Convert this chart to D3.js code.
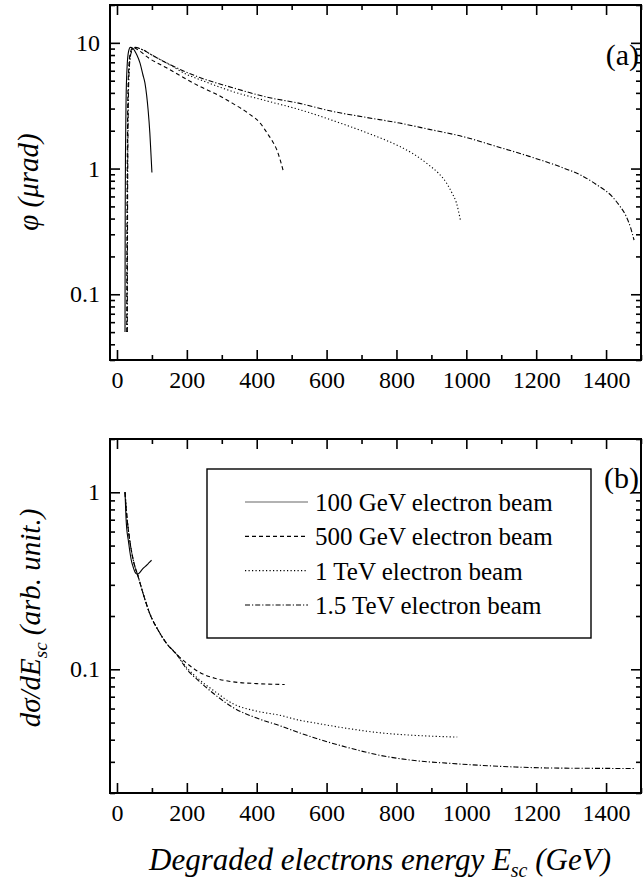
<!DOCTYPE html>
<html>
<head>
<meta charset="utf-8">
<script src="https://cdn.jsdelivr.net/npm/d3@7"></script>
</head>
<body style="margin:0;background:#fff">
<div id="content"></div>
<script>
// data
var beams=["100 GeV electron beam","500 GeV electron beam","1 TeV electron beam","1.5 TeV electron beam"];
var dashes=[null,"4,3","1.2,2.3","5,2,1.2,2"];

// panel (a): angle phi (urad) vs degraded energy (GeV)
var phiE100=[23,23.2,23.6,24.5,26,29,33,38,46,57,66,74,80,85,89,94,97,100];
var phi100=[0.05,0.15,0.5,1.5,3.5,6.5,8.5,9.2,9.0,8.0,6.9,5.6,4.8,3.8,2.95,1.93,1.35,0.93];
var phiE500=[28,28.3,28.8,29.7,31,34,38,46,60,90,143,190,237,285,331,380,410,429,445,457,468,477];
var phi500=[0.05,0.15,0.5,1.5,3.5,6.5,8.3,9.2,8.8,7.6,6.3,5.3,4.5,3.9,3.3,2.7,2.3,1.93,1.65,1.42,1.15,0.93];
var phiE1000=[29,29.3,29.8,30.7,32,35,40,50,70,100,143,200,237,331,429,523,620,714,809,850,894,920,943,960,971,983];
var phi1000=[0.05,0.15,0.5,1.5,3.5,6.5,8.4,9.2,8.9,8.0,6.9,5.6,5.1,4.1,3.45,2.94,2.4,1.93,1.5,1.3,1.06,0.92,0.77,0.63,0.54,0.39];
var phiE1500=[29.5,29.8,30.3,31.2,32.5,35.5,41,52,70,100,143,237,331,429,523,617,714,809,894,989,1086,1180,1274,1330,1371,1417,1440,1457,1470,1480];
var phi1500=[0.05,0.15,0.5,1.5,3.5,6.5,8.4,9.2,8.9,8.0,6.9,5.3,4.4,3.7,3.3,2.85,2.55,2.3,2.05,1.8,1.5,1.25,1.02,0.88,0.75,0.6,0.5,0.42,0.34,0.27];

// panel (b): dsigma/dE (arb. unit.) vs degraded energy (GeV)
var sigE100=[23,25.7,28,32.4,37,42,46,51.4,58,64,70.5,77,84.8,92,99];
var sig100=[1.0,0.725,0.62,0.536,0.46,0.404,0.38,0.355,0.344,0.35,0.363,0.375,0.387,0.40,0.413];
var sigE500=[23,27.6,35.2,46.7,61,75,94,118,142,170,200,237,280,331,400,480];
var sig500=[1.0,0.758,0.559,0.413,0.332,0.267,0.206,0.166,0.140,0.122,0.108,0.096,0.089,0.085,0.083,0.082];
var sigE1000=[23,27.6,35.2,46.7,61,75,94,118,142,170,200,237,280,331,400,466,523,560,657,751,846,974];
var sig1000=[1.0,0.758,0.559,0.413,0.332,0.267,0.206,0.166,0.140,0.122,0.102,0.087,0.075,0.064,0.058,0.055,0.0515,0.050,0.0464,0.0438,0.0424,0.0414];
var sigE1500=[23,27.6,35.2,46.7,61,75,94,118,142,170,200,237,280,331,400,466,523,560,657,751,846,943,1037,1131,1229,1323,1480];
var sig1500=[1.0,0.758,0.559,0.413,0.332,0.267,0.206,0.166,0.140,0.122,0.100,0.085,0.072,0.061,0.053,0.048,0.0437,0.0413,0.0363,0.0327,0.0306,0.0295,0.0287,0.0281,0.0277,0.0276,0.0275];

var xTicks=[0,200,400,600,800,1000,1200,1400];
var xMinor=[100,300,500,700,900,1100,1300,1500];
var phiTicks=[0.1,1,10];
var phiMinor=[0.03,0.04,0.05,0.06,0.07,0.08,0.09,0.2,0.3,0.4,0.5,0.6,0.7,0.8,0.9,2,3,4,5,6,7,8,9,20];
var sigTicks=[0.1,1];
var sigMinor=[0.02,0.03,0.04,0.05,0.06,0.07,0.08,0.09,0.2,0.3,0.4,0.5,0.6,0.7,0.8,0.9,2];

//constants
var width=643, height=888;
var left=110, right=641;
var serif="Liberation Serif";
var tickFont=24;

var svg=d3.select("#content").append("svg")
	.attr("width",width)
	.attr("height",height)
	.attr("font-family",serif);

var x=d3.scaleLinear().domain([-20,1500]).range([left,right]);

function zip(xs,ys){
	return xs.map(function(d,i){return [d,ys[i]];});
}

function label(sel,size,italic){
	return sel.attr("font-family",serif)
		.style("font-family",serif)
		.style("font-size",size+"px")
		.style("font-style",italic?"italic":"normal")
		.attr("fill","#000");
}

function panel(top,bottom,y,major,minor,series,tag){
	var g=svg.append("g");

	// curves
	var line=d3.line()
		.x(function(d){return x(d[0]);})
		.y(function(d){return y(d[1]);})
		.curve(d3.curveMonotoneX);
	series.forEach(function(s,i){
		g.append("path")
			.attr("d",line(s))
			.attr("fill","none")
			.attr("stroke","#000")
			.attr("stroke-width",1.1)
			.attr("stroke-dasharray",dashes[i]);
	});

	// axes, ticks point inward
	var fmt=function(d){return d3.format("~g")(d);};
	var ax=[
		[d3.axisBottom(x).tickValues(xTicks).tickSize(-10).tickPadding(11).tickFormat(fmt),"translate(0,"+bottom+")"],
		[d3.axisBottom(x).tickValues(xMinor).tickSize(-5).tickFormat(""),"translate(0,"+bottom+")"],
		[d3.axisTop(x).tickValues(xTicks).tickSize(-10).tickFormat(""),"translate(0,"+top+")"],
		[d3.axisTop(x).tickValues(xMinor).tickSize(-5).tickFormat(""),"translate(0,"+top+")"],
		[d3.axisLeft(y).tickValues(major).tickSize(-10).tickPadding(10).tickFormat(fmt),"translate("+left+",0)"],
		[d3.axisLeft(y).tickValues(minor).tickSize(-5).tickFormat(""),"translate("+left+",0)"],
		[d3.axisRight(y).tickValues(major).tickSize(-10).tickFormat(""),"translate("+right+",0)"],
		[d3.axisRight(y).tickValues(minor).tickSize(-5).tickFormat(""),"translate("+right+",0)"]
	];
	ax.forEach(function(a){
		var s=g.append("g").attr("transform",a[1]).call(a[0]);
		s.attr("font-family",serif);
		s.select(".domain").remove();
		s.selectAll("line").attr("stroke","#000").attr("stroke-width",1.6);
		label(s.selectAll("text"),tickFont,false);
	});

	g.append("rect")
		.attr("x",left).attr("y",top)
		.attr("width",right-left).attr("height",bottom-top)
		.attr("fill","none").attr("stroke","#000").attr("stroke-width",2);

	label(g.append("text"),30,false)
		.attr("x",right-2).attr("y",tag[1])
		.attr("text-anchor","end")
		.text(tag[0]);
}

var yPhi=d3.scaleLog().domain([0.03,20]).range([360,5]);
var ySig=d3.scaleLog().domain([0.02,2]).range([793,439]);

panel(5,360,yPhi,phiTicks,phiMinor,
	[zip(phiE100,phi100),zip(phiE500,phi500),zip(phiE1000,phi1000),zip(phiE1500,phi1500)],
	["(a)",65]);
panel(439,793,ySig,sigTicks,sigMinor,
	[zip(sigE100,sig100),zip(sigE500,sig500),zip(sigE1000,sig1000),zip(sigE1500,sig1500)],
	["(b)",488]);

// legend
svg.append("rect")
	.attr("x",207).attr("y",469).attr("width",384).attr("height",169)
	.attr("fill","#fff").attr("stroke","#000").attr("stroke-width",1.4);
var rowY=d3.scalePoint().domain(beams).range([502,605]);
beams.forEach(function(b,i){
	svg.append("line")
		.attr("x1",245).attr("x2",308)
		.attr("y1",rowY(b)).attr("y2",rowY(b))
		.attr("stroke",i==0?"#666":"#000").attr("stroke-width",1.1)
		.attr("stroke-dasharray",dashes[i]);
	label(svg.append("text"),25,false)
		.attr("x",315).attr("y",rowY(b)+9)
		.text(b);
});

// axis titles
label(svg.append("text"),29,true)
	.attr("transform","translate(38,182) rotate(-90)")
	.attr("text-anchor","middle")
	.text("\u03C6 (\u03BCrad)");

var t2=label(svg.append("text"),29,true)
	.attr("transform","translate(40,618) rotate(-90)")
	.attr("text-anchor","middle");
t2.append("tspan").text("d\u03C3/dE");
t2.append("tspan").attr("dy",7).style("font-size","19px").text("sc");
t2.append("tspan").attr("dy",-7).text(" (arb. unit.)");

var t3=label(svg.append("text"),31,true)
	.attr("x",380).attr("y",870)
	.attr("text-anchor","middle");
t3.append("tspan").text("Degraded electrons energy E");
t3.append("tspan").attr("dy",7).style("font-size","20px").text("sc");
t3.append("tspan").attr("dy",-7).text(" (GeV)");
</script>
</body>
</html>
